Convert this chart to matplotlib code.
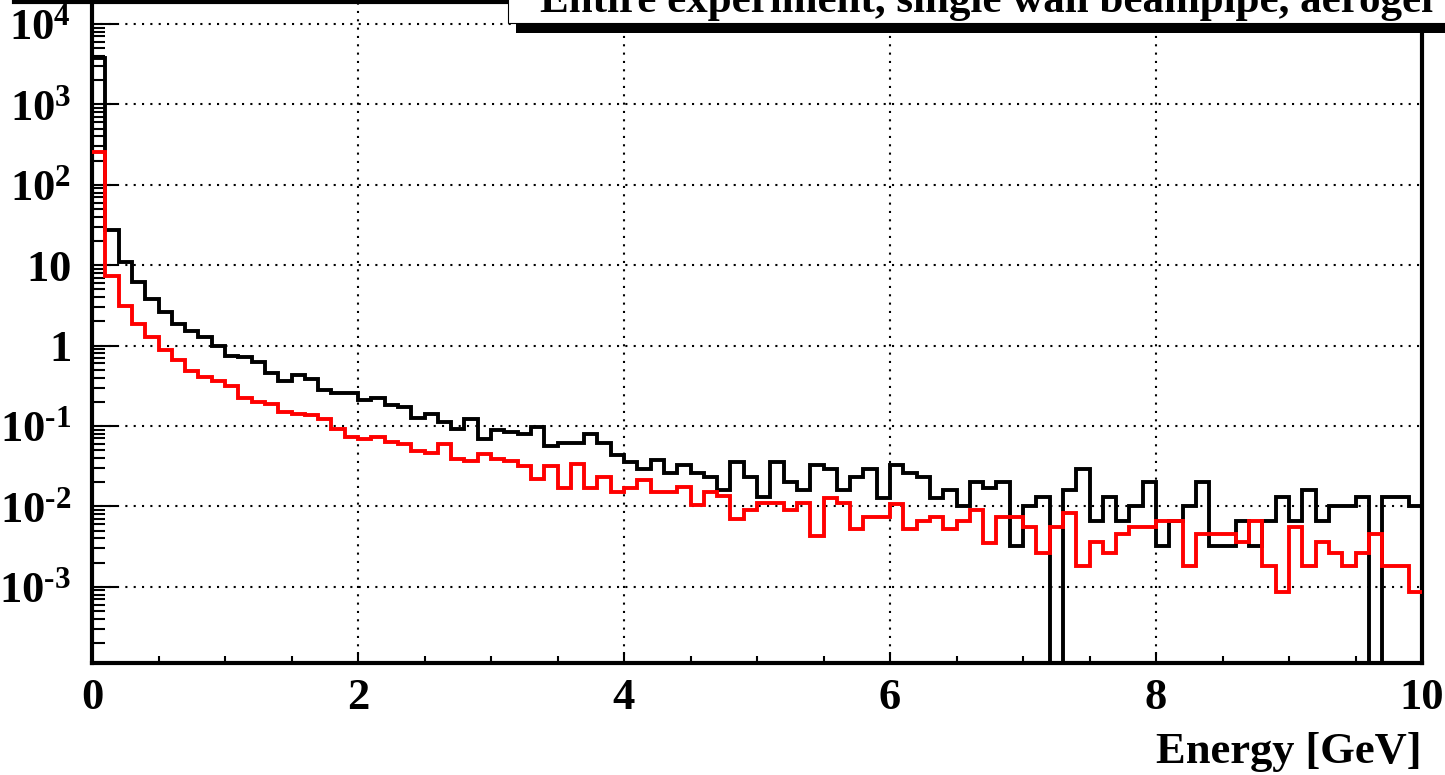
import numpy as np
import matplotlib
matplotlib.use("Agg")
from matplotlib import pyplot as plt
from matplotlib.ticker import FixedLocator, LogLocator, MultipleLocator, NullFormatter
from matplotlib.patches import Rectangle
from matplotlib.lines import Line2D

#Data------------------------------------------------------------------------------------------------
#100 bins of 0.1 GeV between 0 and 10 GeV
bin_edges = np.linspace(0, 10, 101)

hist_black = [3800, 27.5, 11, 6.2, 3.8, 2.6, 1.86, 1.5, 1.28, 1.0,
              0.74, 0.72, 0.62, 0.46, 0.36, 0.43, 0.38, 0.28, 0.26, 0.26,
              0.21, 0.22, 0.18, 0.17, 0.125, 0.14, 0.112, 0.092, 0.123, 0.069,
              0.089, 0.085, 0.079, 0.098, 0.057, 0.062, 0.062, 0.079, 0.062, 0.043,
              0.036, 0.029, 0.038, 0.026, 0.033, 0.026, 0.023, 0.016, 0.036, 0.023,
              0.013, 0.036, 0.020, 0.016, 0.033, 0.029, 0.016, 0.023, 0.029, 0.0126,
              0.033, 0.026, 0.023, 0.0126, 0.016, 0.010, 0.020, 0.0168, 0.020, 0.0032,
              0.010, 0.013, 0, 0.016, 0.029, 0.0066, 0.013, 0.0066, 0.010, 0.020,
              0.0032, 0.0066, 0.010, 0.020, 0.0032, 0.0032, 0.0066, 0.0032, 0.0066, 0.013,
              0.0066, 0.016, 0.0066, 0.010, 0.010, 0.013, 0, 0.013, 0.013, 0.010]

hist_red = [257, 7.4, 3.13, 1.86, 1.28, 0.88, 0.66, 0.49, 0.41, 0.36,
            0.31, 0.22, 0.20, 0.19, 0.15, 0.14, 0.137, 0.123, 0.092, 0.074,
            0.069, 0.073, 0.063, 0.060, 0.049, 0.046, 0.060, 0.039, 0.037, 0.045,
            0.039, 0.037, 0.032, 0.022, 0.032, 0.017, 0.034, 0.017, 0.023, 0.015,
            0.017, 0.021, 0.015, 0.015, 0.0174, 0.0105, 0.0153, 0.0135, 0.0069, 0.0089,
            0.011, 0.011, 0.0091, 0.011, 0.0043, 0.0126, 0.011, 0.0053, 0.0073, 0.0073,
            0.0107, 0.0053, 0.0065, 0.0073, 0.0053, 0.0065, 0.0091, 0.0035, 0.0073, 0.0073,
            0.0055, 0.0026, 0.0055, 0.0082, 0.0018, 0.0036, 0.0026, 0.0045, 0.0055, 0.0055,
            0.0065, 0.0065, 0.0018, 0.0045, 0.0045, 0.0045, 0.0036, 0.0065, 0.0018, 0.00087,
            0.0055, 0.0018, 0.0036, 0.0026, 0.0018, 0.0026, 0.0045, 0.0018, 0.0018, 0.00087]

y_exponents = [-3, -2, -1, 0, 1, 2, 3, 4]
#ROOT writes a short hyphen in the exponent, not a math minus
y_labels = [r"$10^{\text{-}3}$", r"$10^{\text{-}2}$", r"$10^{\text{-}1}$", r"$1$", r"$10$",
            r"$10^{2}$", r"$10^{3}$", r"$10^{4}$"]
x_ticks = [0, 2, 4, 6, 8, 10]
title_text = "Entire experiment, single wall beampipe, aerogel"
x_title = "Energy [GeV]"

#Style (ROOT like, bold Times)------------------------------------------------------------------------
plt.rcParams["font.family"] = ["Liberation Serif", "DejaVu Serif"]
plt.rcParams["font.weight"] = "bold"
plt.rcParams["mathtext.fontset"] = "custom"
plt.rcParams["mathtext.rm"] = "Liberation Serif:bold"
plt.rcParams["mathtext.it"] = "Liberation Serif:bold"
plt.rcParams["mathtext.bf"] = "Liberation Serif:bold"
plt.rcParams["mathtext.default"] = "rm"

W, H = 1445, 775
fig = plt.figure(figsize=(W / 100, H / 100), dpi=100)
ax = fig.add_axes([92 / W, 1 - 663 / H, 1330 / W, 661 / H])

#Histograms
vals_black = np.array(hist_black, dtype=float)
vals_red = np.array(hist_red, dtype=float)
ax.stairs(np.where(vals_black > 0, vals_black, 1e-12), bin_edges, baseline=None,
          color="black", lw=2.8, zorder=3)
ax.stairs(np.where(vals_red > 0, vals_red, 1e-12), bin_edges, baseline=None,
          color="red", lw=2.8, zorder=4)

ax.set_yscale("log")
ax.set_xlim(0, 10)
ax.set_ylim(10 ** -3.948, 10 ** 4.274)

#Axes and ticks
ax.yaxis.set_major_locator(FixedLocator([10.0 ** e for e in y_exponents]))
ax.set_yticklabels(y_labels)
ax.yaxis.set_minor_locator(LogLocator(base=10, subs=np.arange(2, 10), numticks=20))
ax.yaxis.set_minor_formatter(NullFormatter())
ax.set_xticks(x_ticks)
ax.set_xticklabels([str(v) for v in x_ticks])
ax.xaxis.set_minor_locator(MultipleLocator(0.5))

ax.tick_params(axis="both", which="both", direction="in", top=False, right=False,
               width=1.5, labelsize=32)
ax.tick_params(axis="y", which="major", length=18, pad=15)
ax.tick_params(axis="y", which="minor", length=9)
ax.tick_params(axis="x", which="major", length=8, pad=11)
ax.tick_params(axis="x", which="minor", length=5)

for side in ["left", "bottom", "right"]:
    ax.spines[side].set_linewidth(3)
ax.spines["top"].set_visible(False)

ax.grid(which="major", color="black", linestyle=(0, (1, 3)), lw=1.5)

#Top line from the box above (cut off)
fig.add_artist(Line2D([14 / W, 508 / W], [1 - 1.5 / H, 1 - 1.5 / H],
                      color="black", lw=3))

#Title box with shadow (cut at the top of the picture)
fig.add_artist(Rectangle((516 / W, 1 - 33 / H), 1000 / W, 40 / H,
                         facecolor="black", edgecolor="none", zorder=5))
fig.add_artist(Rectangle((508 / W, 1 - 23 / H), 1000 / W, 40 / H,
                         facecolor="white", edgecolor="black", lw=0.8, zorder=6))
fig.text(987 / W, 1 - 12 / H, title_text, ha="center", va="baseline",
         fontsize=31, fontweight="bold", zorder=7)

#X axis title
fig.text(1422 / W, 1 - 763 / H, x_title, ha="right", va="baseline",
         fontsize=32, fontweight="bold")

fig.savefig("out.png", dpi=100)
